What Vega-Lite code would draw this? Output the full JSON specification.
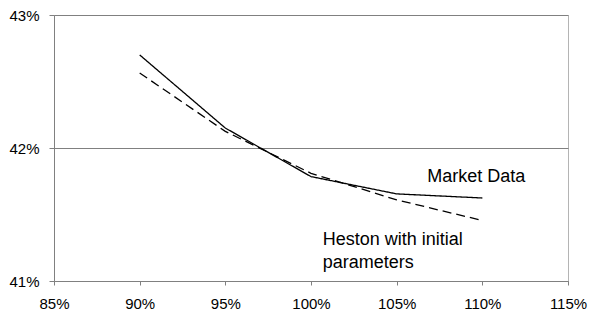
{
  "$schema": "https://vega.github.io/schema/vega-lite/v6.json",
  "width": 514,
  "height": 266,
  "autosize": {"type": "none"},
  "padding": {"left": 54, "top": 15, "right": 21, "bottom": 31},
  "background": "white",
  "config": {
    "view": {"stroke": "#b4b4b4", "strokeWidth": 1},
    "font": "Liberation Sans",
    "axis": {
      "labelFont": "Liberation Sans",
      "labelFontSize": 15,
      "labelColor": "#000000",
      "domainColor": "#808080",
      "tickColor": "#808080",
      "gridColor": "#808080",
      "gridOpacity": 1,
      "domainWidth": 1,
      "tickWidth": 1,
      "title": null,
      "zindex": 1,
      "labelFlush": false,
      "labelOverlap": false
    }
  },
  "datasets": {
    "curves": [
      {"strike": 90, "vol": 42.70, "series": "Market Data"},
      {"strike": 95, "vol": 42.15, "series": "Market Data"},
      {"strike": 100, "vol": 41.785, "series": "Market Data"},
      {"strike": 105, "vol": 41.655, "series": "Market Data"},
      {"strike": 110, "vol": 41.624, "series": "Market Data"},
      {"strike": 90, "vol": 42.564, "series": "Heston with initial parameters"},
      {"strike": 95, "vol": 42.125, "series": "Heston with initial parameters"},
      {"strike": 100, "vol": 41.81, "series": "Heston with initial parameters"},
      {"strike": 105, "vol": 41.61, "series": "Heston with initial parameters"},
      {"strike": 110, "vol": 41.455, "series": "Heston with initial parameters"}
    ],
    "labels": [
      {"x": 106.79, "y": 41.741, "text": "Market Data"},
      {"x": 100.68, "y": 41.268, "text": "Heston with initial"},
      {"x": 100.68, "y": 41.10, "text": "parameters"}
    ]
  },
  "layer": [
    {
      "data": {"name": "curves"},
      "mark": {"type": "line", "color": "#000000", "strokeWidth": 1.3},
      "encoding": {
        "x": {
          "field": "strike",
          "type": "quantitative",
          "scale": {"domain": [85, 115], "nice": false, "zero": false},
          "axis": {
            "values": [85, 90, 95, 100, 105, 110, 115],
            "labelExpr": "datum.value + '%'",
            "grid": false,
            "tickSize": 4,
            "labelPadding": 11
          }
        },
        "y": {
          "field": "vol",
          "type": "quantitative",
          "scale": {"domain": [41, 43], "nice": false, "zero": false},
          "axis": {
            "values": [41, 42, 43],
            "labelExpr": "datum.value + '%'",
            "grid": true,
            "tickSize": 5,
            "labelPadding": 10
          }
        },
        "detail": {"field": "series"},
        "strokeDash": {
          "field": "series",
          "type": "nominal",
          "scale": {
            "domain": ["Market Data", "Heston with initial parameters"],
            "range": [[1, 0], [9, 5]]
          },
          "legend": null
        }
      }
    },
    {
      "data": {"name": "labels"},
      "mark": {
        "type": "text",
        "align": "left",
        "baseline": "alphabetic",
        "fontSize": 18,
        "font": "Liberation Sans",
        "color": "#000000"
      },
      "encoding": {
        "x": {"field": "x", "type": "quantitative"},
        "y": {"field": "y", "type": "quantitative"},
        "text": {"field": "text"}
      }
    }
  ]
}
